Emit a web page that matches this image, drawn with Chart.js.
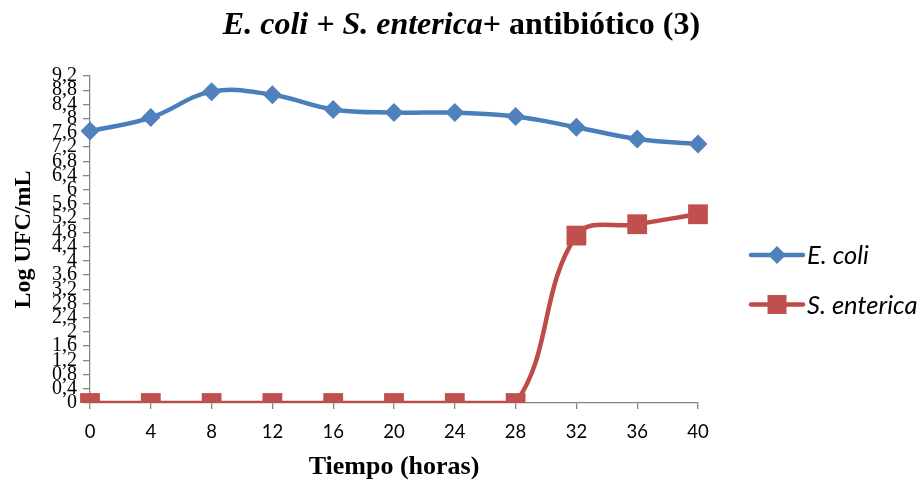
<!DOCTYPE html>
<html>
<head>
<meta charset="utf-8">
<script src="https://cdn.jsdelivr.net/npm/chart.js@4/dist/chart.umd.min.js"></script>
<style>
  html, body { margin: 0; padding: 0; background: #fff; }
  #wrap { position: relative; width: 923px; height: 482px; overflow: hidden; }
  #chart { position: absolute; left: 0; top: 0; }
  #title {
    position: absolute; left: 0; top: 3px; width: 923px; text-align: center;
    font-family: "Liberation Serif", "Times New Roman", serif;
    font-weight: bold; font-size: 32px; line-height: 40px; color: #000;
    white-space: nowrap;
  }
</style>
</head>
<body>
<div id="wrap">
  <canvas id="chart" width="923" height="482"></canvas>
  <div id="title"><i>E. coli + S. enterica</i>+ antibiótico (3)</div>
</div>
<script>
// Sampling times (hours)
const hours = ['0', '4', '8', '12', '16', '20', '24', '28', '32', '36', '40'];

// Log UFC/mL per species
const ecoli     = [7.65, 8.03, 8.76, 8.67, 8.26, 8.17, 8.17, 8.06, 7.76, 7.43, 7.29];
const senterica = [0, 0, 0, 0, 0, 0, 0, 0, 4.71, 5.03, 5.31];

// Y axis tick values (labels use a decimal comma)
const yTicks = [0, 0.4, 0.8, 1.2, 1.6, 2, 2.4, 2.8, 3.2, 3.6, 4, 4.4, 4.8,
                5.2, 5.6, 6, 6.4, 6.8, 7.2, 7.6, 8, 8.4, 8.8, 9.2];

const seriesNames = ['E. coli', 'S. enterica'];

const BLUE_LINE = '#4A7EBB', BLUE_MARK = '#4F81BD';
const RED_LINE = '#BE4B48', RED_MARK = '#C0504D';
const AXIS = '#868686';

// Legend at the right: a short line with the series marker, then the name
const sideLegend = {
  id: 'sideLegend',
  afterDraw(chart) {
    const ctx = chart.ctx;
    const rows = [
      { y: 255, line: BLUE_LINE, mark: BLUE_MARK, shape: 'diamond' },
      { y: 304.5, line: RED_LINE, mark: RED_MARK, shape: 'square' }
    ];
    ctx.save();
    rows.forEach((r, i) => {
      ctx.strokeStyle = r.line;
      ctx.lineWidth = 4.5;
      ctx.lineCap = 'round';
      ctx.beginPath();
      ctx.moveTo(751, r.y);
      ctx.lineTo(803, r.y);
      ctx.stroke();
      ctx.fillStyle = r.mark;
      ctx.beginPath();
      const cx = 777;
      if (r.shape === 'diamond') {
        ctx.moveTo(cx, r.y - 9);
        ctx.lineTo(cx + 9, r.y);
        ctx.lineTo(cx, r.y + 9);
        ctx.lineTo(cx - 9, r.y);
        ctx.closePath();
      } else {
        ctx.rect(cx - 9.5, r.y - 9.5, 19, 19);
      }
      ctx.fill();
      ctx.fillStyle = '#000';
      ctx.font = 'italic 25.5px Lato, "Open Sans", sans-serif';
      ctx.textBaseline = 'alphabetic';
      ctx.textAlign = 'left';
      ctx.fillText(seriesNames[i], 807, r.y + 9);
    });
    ctx.restore();
  }
};

new Chart(document.getElementById('chart'), {
  type: 'line',
  data: {
    labels: hours,
    datasets: [
      {
        label: seriesNames[0],
        data: ecoli,
        borderColor: BLUE_LINE,
        backgroundColor: BLUE_MARK,
        borderWidth: 4.5,
        tension: 0.4,
        pointStyle: 'rectRot',
        pointRadius: 9.5,
        pointBorderWidth: 0,
        pointBackgroundColor: BLUE_MARK
      },
      {
        label: seriesNames[1],
        data: senterica,
        borderColor: RED_LINE,
        backgroundColor: RED_MARK,
        borderWidth: 4.5,
        tension: 0.4,
        pointStyle: 'rect',
        pointRadius: 14,
        pointBorderWidth: 0,
        pointBackgroundColor: RED_MARK
      }
    ]
  },
  options: {
    responsive: false,
    animation: false,
    events: [],
    layout: { padding: { left: 0, right: 225, top: 76, bottom: 0 } },
    plugins: {
      legend: { display: false },
      title: { display: false },
      tooltip: { enabled: false }
    },
    scales: {
      x: {
        type: 'category',
        offset: false,
        grid: {
          display: true, drawOnChartArea: false, drawTicks: true,
          tickLength: 6, color: AXIS, lineWidth: 1.3
        },
        border: { display: true, color: AXIS, width: 1.3 },
        ticks: {
          color: '#000', padding: 12, maxRotation: 0, autoSkip: false,
          font: { family: 'Lato, "Open Sans", sans-serif', size: 18.5 }
        },
        title: {
          display: true, text: 'Tiempo (horas)', color: '#000',
          padding: { top: 0, bottom: 0 },
          font: { family: '"Liberation Serif", "Times New Roman", serif', size: 26, weight: 'bold', lineHeight: 1.15 }
        },
        afterFit(scale) { scale.height = 79; }
      },
      y: {
        type: 'linear',
        min: 0,
        max: 9.2,
        grid: {
          display: true, drawOnChartArea: false, drawTicks: true,
          tickLength: 7, color: AXIS, lineWidth: 1.3
        },
        border: { display: true, color: AXIS, width: 1.3 },
        afterBuildTicks(scale) {
          scale.ticks = yTicks.map(v => ({ value: v }));
        },
        ticks: {
          color: '#000', padding: 6, autoSkip: false,
          font: { family: '"Liberation Serif", "Times New Roman", serif', size: 20, lineHeight: 1 },
          callback: (v) => String(Math.round(v * 10) / 10).replace('.', ',')
        },
        title: {
          display: true, text: 'Log UFC/mL', color: '#000',
          padding: { top: 9, bottom: 0 },
          font: { family: '"Liberation Serif", "Times New Roman", serif', size: 24, weight: 'bold', lineHeight: 1.2 }
        },
        afterFit(scale) { scale.width = 90; }
      }
    }
  },
  plugins: [sideLegend]
});
</script>
</body>
</html>
